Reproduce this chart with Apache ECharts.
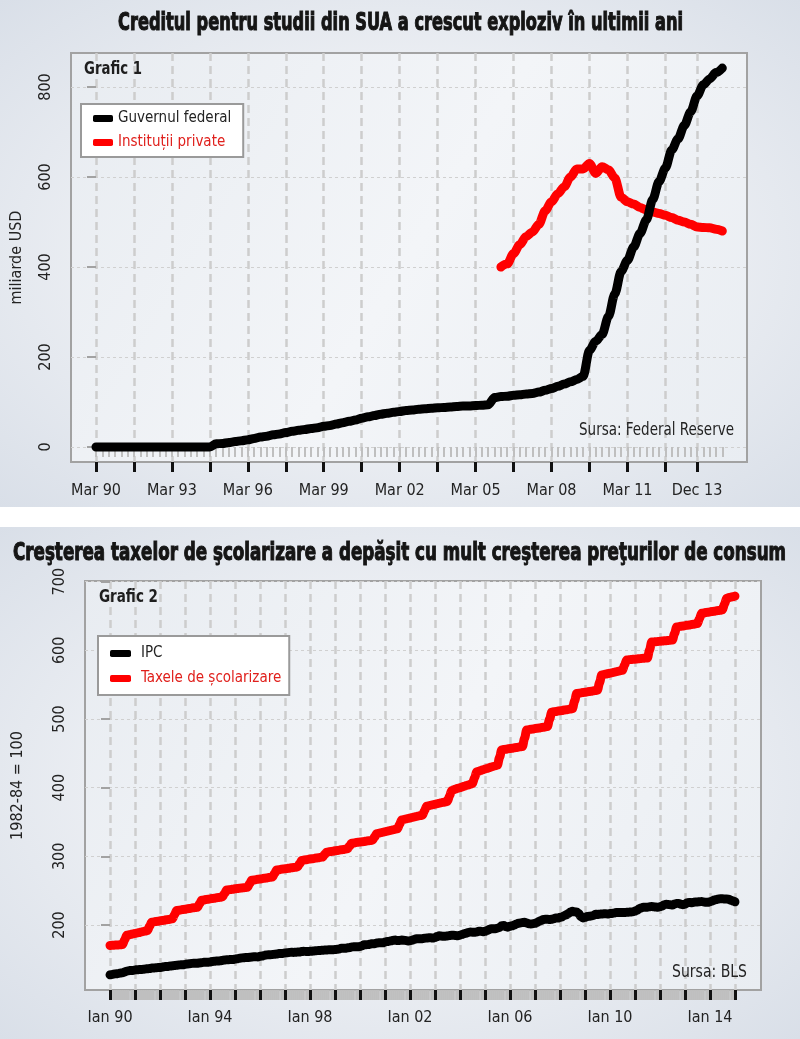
<!DOCTYPE html>
<html><head><meta charset="utf-8">
<script src="https://cdn.jsdelivr.net/npm/echarts@6/dist/echarts.min.js"></script>
<style>
html,body{margin:0;padding:0;background:#fff;}
#wrap{position:relative;width:800px;height:1039px;overflow:hidden;}
.panel{position:absolute;left:0;width:800px;background:radial-gradient(ellipse at 50% 50%, #f6f7f9 0%, #eaedf2 55%, #d9dfe8 100%);}
#p1{top:0;height:507px;}
#p2{top:527px;height:512px;}
#chart{position:absolute;left:0;top:0;width:800px;height:1039px;}
</style></head><body>
<div id="wrap"><div class="panel" id="p1"></div><div class="panel" id="p2"></div><div id="chart"></div></div>
<script>
// ---------- Chart 1 data (quarterly, Mar 90 .. Dec 14), miliarde USD ----------
const qMonths = ['Mar', 'Iun', 'Sep', 'Dec'];
const quarters = [];
for (let y = 1990; y <= 2014; y++) for (const m of qMonths) quarters.push(m + ' ' + String(y).slice(2));
const fedGov = [
  0,0,0,0,0,0,0,0,0,0, 0,0,0,0,0,0,0,0,0,7,
  8,10,12,14,16,19,22,24,27,29, 32,35,37,39,41,43,46,48,51,54,
  57,60,64,67,70,73,75,77,79,81, 82,84,85,86,87,88,89,90,91,91,
  92,93,94,110,112,113,115,116,118,119, 122,126,130,135,140,145,150,157,215,235,
  250,290,340,390,415,445,475,505,550,590, 620,660,685,715,745,780,805,818,832,842
];
const privStartIndex = 64; // Mar 06
const privInst = [
  400,407,430,450,468,478,495,525,545,563, 578,600,618,618,630,608,623,616,598,555,
  545,540,532,527,522,519,515,510,504,500, 495,489,488,487,484,480
];
const q1TickIdx = [0,6,12,18,24,30,36,42,48,54,60,66,72,78,84,90,95];
const q1LabelIdx = [0,12,24,36,48,60,72,84,95];   // Mar 90 ... Mar 11, Dec 13
const y1Ticks = [0,200,400,600,800];

// ---------- Chart 2 data (monthly, Ian 1990 .. Ian 2015), 1982-84 = 100 ----------
const ipc = [
  127.4,128.0,128.7,128.9,129.2,129.9,130.4,131.6,132.7,133.5,133.8,133.8,
  134.6,134.8,135.0,135.2,135.6,136.0,136.2,136.6,137.2,137.4,137.8,137.9,
  138.1,138.6,139.3,139.5,139.7,140.2,140.5,140.9,141.3,141.8,142.0,141.9,
  142.6,143.1,143.6,144.0,144.2,144.4,144.4,144.8,145.1,145.7,145.8,145.8,
  146.2,146.7,147.2,147.4,147.5,148.0,148.4,149.0,149.4,149.5,149.7,149.7,
  150.3,150.9,151.4,151.9,152.2,152.5,152.5,152.9,153.2,153.7,153.6,153.5,
  154.4,154.9,155.7,156.3,156.6,156.7,157.0,157.3,157.8,158.3,158.6,158.6,
  159.1,159.6,160.0,160.2,160.1,160.3,160.5,160.8,161.2,161.6,161.5,161.3,
  161.6,161.9,162.2,162.5,162.8,163.0,163.2,163.4,163.6,164.0,164.0,163.9,
  164.3,164.5,165.0,166.2,166.2,166.2,166.7,167.1,167.9,168.2,168.3,168.3,
  168.8,169.8,171.2,171.3,171.5,172.4,172.8,172.8,173.7,174.0,174.1,174.0,
  175.1,175.8,176.2,176.9,177.7,178.0,177.5,177.5,178.3,177.7,177.4,176.7,
  177.1,177.8,178.8,179.8,179.8,179.9,180.1,180.7,181.0,181.3,181.3,180.9,
  181.7,183.1,184.2,183.8,183.5,183.7,183.9,184.6,185.2,185.0,184.5,184.3,
  185.2,186.2,187.4,188.0,189.1,189.7,189.4,189.5,189.9,190.9,191.0,190.3,
  190.7,191.8,193.3,194.6,194.4,194.5,195.4,196.4,198.8,199.2,197.6,196.8,
  198.3,198.7,199.8,201.5,202.5,202.9,203.5,203.9,202.9,201.8,201.5,201.8,
  202.4,203.5,205.4,206.7,207.9,208.4,208.3,207.9,208.5,208.9,210.2,210.0,
  211.1,211.7,213.5,214.8,216.6,218.8,220.0,219.1,218.8,216.6,212.4,210.2,
  211.1,212.2,212.7,213.2,213.9,215.7,215.4,215.8,216.0,216.2,216.3,215.9,
  216.7,216.7,217.6,218.0,218.2,218.0,218.0,218.3,218.4,218.7,218.8,219.2,
  220.2,221.3,223.5,224.9,226.0,225.7,225.9,226.5,226.9,226.4,226.2,225.7,
  226.7,227.7,229.4,230.1,229.8,229.5,229.1,230.4,231.4,231.3,230.2,229.6,
  230.3,232.2,232.8,232.5,232.9,233.5,233.6,233.9,234.1,233.5,233.1,233.0,
  233.9,234.8,236.3,237.1,237.9,238.3,238.3,237.9,238.0,237.4,236.2,234.8,
  233.7
];
const taxe = [
  170.2,170.4,170.6,170.8,171.0,171.2,171.4,178.0,185.0,185.6,186.3,187.0,
  187.6,188.3,189.0,189.8,190.5,191.2,192.0,198.0,204.0,204.5,205.0,205.5,
  206.0,206.5,207.0,207.5,208.0,208.5,209.0,215.0,221.0,221.5,222.0,222.5,
  223.0,223.5,224.0,224.5,225.0,225.5,226.0,231.0,236.0,236.5,237.0,237.5,
  238.0,238.5,239.0,239.5,240.0,240.5,241.0,246.0,251.0,251.4,251.8,252.2,
  252.6,253.0,253.4,253.8,254.2,254.6,255.0,260.0,265.0,265.5,266.0,266.5,
  267.0,267.5,268.0,268.5,269.0,269.5,270.0,275.0,280.0,280.5,281.0,281.5,
  281.9,282.4,282.8,283.2,283.6,284.0,284.5,289.0,294.0,294.5,295.0,295.5,
  296.0,296.5,297.0,297.5,298.0,298.5,299.0,302.5,306.0,306.5,307.0,307.5,
  308.0,308.5,309.0,309.5,310.0,310.5,311.0,315.0,319.0,319.5,320.0,320.4,
  320.8,321.2,321.7,322.1,322.6,323.0,323.5,328.0,333.0,333.7,334.4,335.1,
  335.8,336.5,337.2,337.9,338.6,339.3,340.0,346.5,353.0,353.7,354.4,355.1,
  355.8,356.5,357.2,357.9,358.6,359.3,360.0,366.5,373.0,373.7,374.4,375.1,
  375.8,376.5,377.2,377.9,378.6,379.3,380.0,388.0,396.0,397.0,398.0,399.0,
  400.0,401.0,402.0,403.0,404.0,405.0,406.0,414.5,423.0,424.0,425.0,426.0,
  427.0,428.0,429.0,430.0,431.0,432.0,433.0,444.0,455.0,455.5,456.0,456.5,
  457.0,457.5,458.0,458.5,459.0,459.5,460.0,472.0,484.0,484.5,485.0,485.5,
  486.0,486.5,487.0,487.5,488.0,488.5,489.0,499.5,510.0,510.5,511.0,511.5,
  512.0,512.5,513.0,513.5,514.0,514.5,515.0,526.0,537.0,537.5,538.0,538.5,
  539.0,539.5,540.0,540.5,541.0,541.5,542.0,553.0,564.0,564.7,565.4,566.1,
  566.8,567.5,568.2,568.9,569.6,570.3,571.0,578.5,586.0,586.3,586.6,586.9,
  587.2,587.5,587.8,588.1,588.4,588.7,589.0,600.5,612.0,612.3,612.6,612.9,
  613.2,613.5,613.8,614.1,614.4,614.7,615.0,624.5,634.0,634.5,635.0,635.5,
  636.0,636.5,637.0,637.5,638.0,638.5,639.0,646.5,654.0,654.5,655.0,655.5,
  656.0,656.5,657.0,657.5,658.0,658.5,659.0,667.5,676.0,676.8,677.5,678.2,
  679.0
];
const monthLabels = [];
for (let y = 1990; y <= 2015; y++) for (let m = 0; m < 12; m++) monthLabels.push(m === 0 ? 'Ian ' + String(y).slice(2) : '');
const m2TickIdx = []; for (let i = 0; i <= 300; i += 12) m2TickIdx.push(i);
const m2LabelIdx = [0,48,96,144,192,240,288];   // Ian 90 ... Ian 14
const y2Ticks = [200,300,400,500,600,700];

const title1 = 'Creditul pentru studii din SUA a crescut exploziv în ultimii ani';
const title2 = 'Creşterea taxelor de şcolarizare a depăşit cu mult creşterea preţurilor de consum';

// ---------- styling ----------
const FONT = "'Liberation Sans Narrow','Arial Narrow','DejaVu Sans Condensed',sans-serif";
const TXT = '#232323';
const RED = '#ff0000';
const RED_TXT = '#e0201c';
const BORDER = '#a2a2a2';

const mctx = document.createElement('canvas').getContext('2d');
function fitScale(text, font, target) {
  mctx.font = font;
  return target / mctx.measureText(text).width;
}
const tFont = "bold 23px " + FONT;
const gFont = "bold 18px " + FONT;
const sFont = "18px " + FONT;

const allQ = quarters.map((_, i) => i);
const allM = ipc.map((_, i) => i);

const plotBg = new echarts.graphic.LinearGradient(0, 0, 1, 1, [
  {offset: 0, color: '#e8ecf1'}, {offset: 0.5, color: '#f3f5f8'}, {offset: 1, color: '#e9edf2'}
]);

function minorX(grid, min, max, vals, w) {
  return {type: 'value', gridIndex: grid, min, max, position: 'bottom',
    axisLine: {show: false}, axisLabel: {show: false}, splitLine: {show: false},
    axisTick: {show: true, customValues: vals, length: 10, lineStyle: {color: '#bfbfbf', width: w}}};
}
function majorX(grid, min, max, ticks, labels, fmt, margin) {
  return {type: 'value', gridIndex: grid, min, max, position: 'bottom',
    axisLine: {show: false},
    axisTick: {show: true, customValues: ticks, length: 10, lineStyle: {color: '#111', width: 3}},
    axisLabel: {show: true, customValues: labels, formatter: fmt, margin,
      fontSize: 16, color: TXT, fontFamily: FONT},
    splitLine: {show: true, lineStyle: {color: '#cdcdcd', width: 2.5, type: [8, 5]}}};
}
function yAx(grid, min, max, ticks, name, gap) {
  return {type: 'value', gridIndex: grid, min, max, position: 'left',
    axisLine: {show: false},
    axisTick: {show: true, customValues: ticks, length: 9, lineStyle: {color: BORDER, width: 2}},
    axisLabel: {show: true, customValues: ticks, rotate: 90, margin: 17,
      fontSize: 16, color: TXT, fontFamily: FONT},
    splitLine: {show: true, lineStyle: {color: '#d0d0d0', width: 1, type: [3, 3]}},
    name, nameLocation: 'middle', nameRotate: 90, nameGap: gap, nameMoveOverlap: false,
    nameTextStyle: {fontSize: 16, color: TXT, fontFamily: FONT}};
}
function txt(text, x, y, font, target, align, color) {
  return {type: 'text', x, y, scaleX: fitScale(text, font, target), z: 100,
    style: {text, font, fill: color, align, verticalAlign: 'middle'}};
}
const lineBase = {type: 'line', showSymbol: false, symbol: 'none', smooth: 0.3, smoothMonotone: 'x'};

const chart = echarts.init(document.getElementById('chart'), null, {renderer: 'canvas'});
chart.setOption({
  backgroundColor: 'transparent',
  animation: false,
  grid: [
    {left: 71, top: 53, width: 676, height: 409, show: true, backgroundColor: plotBg,
     borderColor: BORDER, borderWidth: 2, outerBoundsMode: 'none'},
    {left: 85, top: 581, width: 676, height: 409, show: true, backgroundColor: plotBg,
     borderColor: BORDER, borderWidth: 2, outerBoundsMode: 'none'}
  ],
  xAxis: [
    minorX(0, -3.95, 102.9, allQ, 2),
    majorX(0, -3.95, 102.9, q1TickIdx, q1LabelIdx, v => quarters[v], 21),
    minorX(1, -12, 312.5, allM, 2.6),
    majorX(1, -12, 312.5, m2TickIdx, m2LabelIdx, v => monthLabels[v], 20)
  ],
  yAxis: [
    yAx(0, -33.3, 875.6, y1Ticks, 'miliarde USD', 46),
    yAx(1, 105.3, 701, y2Ticks, '1982-84 = 100', 59)
  ],
  legend: [
    {data: [{name: 'Guvernul federal', textStyle: {color: TXT}},
            {name: 'Instituții private', textStyle: {color: RED_TXT}}],
     left: 81, top: 104, orient: 'vertical', icon: 'roundRect', itemWidth: 20, itemHeight: 7,
     itemGap: 9, padding: [7, 12, 7, 12], backgroundColor: '#fff', borderColor: '#9a9a9a', borderWidth: 2,
     borderRadius: 0, selectedMode: false, textStyle: {fontSize: 15, fontFamily: FONT}},
    {data: [{name: 'IPC', textStyle: {color: TXT}},
            {name: 'Taxele de școlarizare', textStyle: {color: RED_TXT}}],
     left: 98, top: 636, orient: 'vertical', icon: 'roundRect', itemWidth: 21, itemHeight: 7,
     itemGap: 10, padding: [10, 8, 9, 12], backgroundColor: '#fff', borderColor: '#9a9a9a', borderWidth: 2,
     borderRadius: 0, selectedMode: false, textStyle: {fontSize: 15, fontFamily: FONT, padding: [0, 0, 0, 5]}}
  ],
  series: [
    Object.assign({}, lineBase, {name: 'Instituții private', xAxisIndex: 1, yAxisIndex: 0, z: 3,
     data: privInst.map((v, i) => [privStartIndex + i, v]),
     itemStyle: {color: RED}, lineStyle: {color: RED, width: 9, cap: 'round', join: 'round'}}),
    Object.assign({}, lineBase, {name: 'Guvernul federal', xAxisIndex: 1, yAxisIndex: 0, z: 4,
     data: fedGov.map((v, i) => [i, v]),
     itemStyle: {color: '#000'}, lineStyle: {color: '#000', width: 9, cap: 'round', join: 'round'}}),
    Object.assign({}, lineBase, {name: 'Taxele de școlarizare', xAxisIndex: 3, yAxisIndex: 1, z: 3,
     data: taxe.map((v, i) => [i, v]),
     itemStyle: {color: RED}, lineStyle: {color: RED, width: 9, cap: 'round', join: 'round'}}),
    Object.assign({}, lineBase, {name: 'IPC', xAxisIndex: 3, yAxisIndex: 1, z: 4,
     data: ipc.map((v, i) => [i, v]),
     itemStyle: {color: '#000'}, lineStyle: {color: '#000', width: 9, cap: 'round', join: 'round'}})
  ],
  graphic: [
    {type: 'text', x: 400.5, y: 23, scaleX: fitScale(title1, tFont, 565), scaleY: 1.1, z: 100,
     style: {text: title1, font: tFont, fill: '#151515', stroke: '#151515', lineWidth: 1, align: 'center', verticalAlign: 'middle'}},
    {type: 'text', x: 399.5, y: 553, scaleX: fitScale(title2, tFont, 773), scaleY: 1.1, z: 100,
     style: {text: title2, font: tFont, fill: '#151515', stroke: '#151515', lineWidth: 1, align: 'center', verticalAlign: 'middle'}},
    txt('Grafic 1', 84, 69, gFont, 58, 'left', '#1e1e1e'),
    txt('Grafic 2', 99, 597, gFont, 59, 'left', '#1e1e1e'),
    txt('Sursa: Federal Reserve', 734, 430, sFont, 155, 'right', TXT),
    txt('Sursa: BLS', 747, 972, sFont, 75, 'right', TXT)
  ]
});
</script></body></html>
